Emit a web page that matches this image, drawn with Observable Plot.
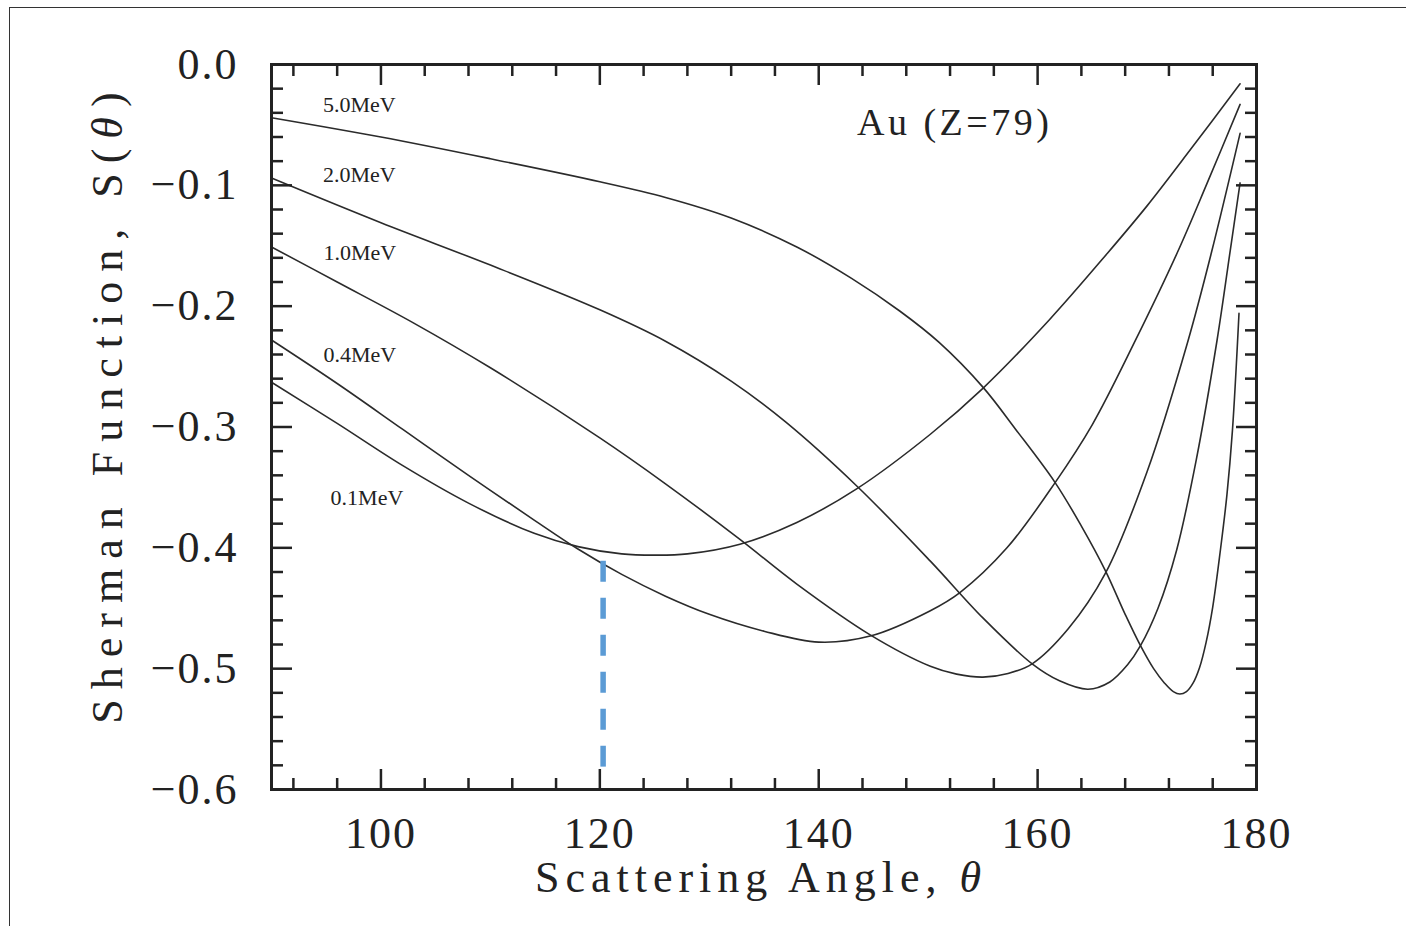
<!DOCTYPE html>
<html>
<head>
<meta charset="utf-8">
<script src="https://cdn.jsdelivr.net/npm/d3@7"></script>
<script src="https://cdn.jsdelivr.net/npm/@observablehq/plot@0.6"></script>
<style>
html,body{margin:0;padding:0;background:#fff;overflow:hidden;}
#chart{position:absolute;left:0;top:0;}
#frame{position:absolute;left:9px;top:7px;width:1420px;height:940px;border:1.5px solid #333;z-index:2;pointer-events:none;}
</style>
</head>
<body>
<div id="chart"></div>
<div id="frame"></div>
<script>
// ---- data (theta in degrees, Sherman function S) ----
const energies = ["5.0MeV", "2.0MeV", "1.0MeV", "0.4MeV", "0.1MeV"];
const s50 = [[90,-0.044],[100,-0.060],[110,-0.078],[120,-0.097],[126,-0.110],[132,-0.127],[138,-0.151],[143,-0.177],[147.4,-0.204],[151,-0.230],[155,-0.267],[158,-0.302],[161.6,-0.346],[164,-0.382],[166.2,-0.419],[168,-0.455],[169.4,-0.481],[170.6,-0.500],[171.6,-0.512],[172.4,-0.519],[173,-0.521],[173.6,-0.519],[174.2,-0.512],[174.8,-0.499],[175.4,-0.478],[176,-0.449],[176.7,-0.402],[177.3,-0.356],[177.8,-0.303],[178.4,-0.206]];
const s20 = [[90,-0.094],[100,-0.131],[110,-0.166],[120,-0.203],[126,-0.229],[132,-0.262],[137,-0.296],[143.5,-0.349],[150.2,-0.411],[155,-0.458],[159.5,-0.496],[162,-0.510],[164.6,-0.517],[166.6,-0.511],[168.2,-0.497],[169.4,-0.481],[171,-0.450],[172.7,-0.402],[174.5,-0.327],[176.4,-0.228],[177.6,-0.154],[178.5,-0.098]];
const s10 = [[90,-0.151],[96,-0.180],[103,-0.214],[110,-0.251],[120,-0.309],[126,-0.347],[132.8,-0.393],[138,-0.430],[144.7,-0.472],[150.2,-0.498],[152.6,-0.5045],[155,-0.507],[157.3,-0.504],[159.5,-0.496],[162.8,-0.467],[166.2,-0.421],[170,-0.337],[173.7,-0.230],[175.9,-0.155],[178.5,-0.057]];
const s04 = [[90,-0.228],[96,-0.264],[102,-0.302],[108,-0.340],[114,-0.377],[118,-0.401],[122,-0.422],[126,-0.440],[130,-0.455],[135,-0.469],[140,-0.478],[144.7,-0.473],[150.2,-0.452],[152.9,-0.437],[157.2,-0.400],[161.6,-0.346],[165,-0.298],[168.9,-0.229],[172.8,-0.155],[175.5,-0.098],[178.5,-0.033]];
const s01 = [[90,-0.263],[96,-0.297],[102,-0.332],[108,-0.363],[114,-0.388],[118,-0.399],[122,-0.405],[125,-0.406],[128,-0.405],[132.8,-0.397],[138,-0.379],[143.5,-0.351],[150.2,-0.306],[155,-0.268],[161.1,-0.211],[166.4,-0.156],[170,-0.117],[174,-0.070],[178.5,-0.016]];

// label positions for each curve (theta, S)
const labelTheta = [94.7, 94.7, 94.75, 94.75, 95.4];
const labelS = [-0.0335, -0.0915, -0.156, -0.2405, -0.359];

const title = ["Au (Z=79)"];
const titleTheta = [143.5];
const titleS = [-0.0484];

// blue dashed marker
const markerTheta = [120.3];
const markerS = [-0.411, -0.582];

// ticks
const xMajor = [100, 120, 140, 160, 180];
const xMinor = [92, 96, 104, 108, 112, 116, 124, 128, 132, 136, 144, 148, 152, 156, 164, 168, 172, 176];
const yMajor = [-0.6, -0.5, -0.4, -0.3, -0.2, -0.1, 0];
const yMinor = [-0.58, -0.56, -0.54, -0.52, -0.48, -0.46, -0.44, -0.42, -0.38, -0.36, -0.34, -0.32, -0.28, -0.26, -0.24, -0.22, -0.18, -0.16, -0.14, -0.12, -0.08, -0.06, -0.04, -0.02];

const xTitle = ["Scattering Angle, θ"];
const yTitle = ["Sherman Function, S(θ)"];

// ---- build ----
const seriesList = [s50, s20, s10, s04, s01];
const rows = seriesList.flatMap((pts, i) => pts.map(([t, s]) => ({theta: t, S: s, e: energies[i]})));
const labels = energies.map((e, i) => ({e, theta: labelTheta[i], S: labelS[i]}));
const fmt = d3.format(".1f");
const ink = "#222";
const blank = () => "";

const chart = Plot.plot({
  width: 1406,
  height: 926,
  marginLeft: 271,
  marginRight: 150,
  marginTop: 64,
  marginBottom: 137,
  style: {fontFamily: "'Liberation Serif', serif", background: "transparent", color: ink},
  x: {domain: [90, 180], label: null},
  y: {domain: [-0.6, 0], label: null},
  marks: [
    Plot.line(rows, {x: "theta", y: "S", z: "e", curve: "catmull-rom", stroke: "#2b2b2b", strokeWidth: 1.6}),
    Plot.ruleX(markerTheta, {x: d => d, y1: markerS[0], y2: markerS[1], stroke: "#5b9bd5", strokeWidth: 5.5, strokeDasharray: "21,16"}),
    Plot.text(labels, {x: "theta", y: "S", text: "e", textAnchor: "start", fontSize: 22, fill: ink}),
    Plot.text(title, {x: titleTheta, y: titleS, text: d => d, textAnchor: "start", fontSize: 38, fill: ink}),
    // tick labels
    Plot.axisX(xMajor, {anchor: "bottom", tickSize: 0, tickPadding: 27, fontSize: 44, label: null, tickFormat: d => String(d)}),
    Plot.axisY(yMajor, {anchor: "left", tickSize: 0, tickPadding: 33, fontSize: 44, label: null, tickFormat: d => fmt(d)}),
    // inward ticks on all four sides
    Plot.axisX(xMajor, {anchor: "bottom", tickSize: -20, strokeWidth: 2.5, stroke: ink, tickFormat: blank, label: null}),
    Plot.axisX(xMinor, {anchor: "bottom", tickSize: -11, strokeWidth: 2.5, stroke: ink, tickFormat: blank, label: null}),
    Plot.axisX(xMajor, {anchor: "top", tickSize: -20, strokeWidth: 2.5, stroke: ink, tickFormat: blank, label: null}),
    Plot.axisX(xMinor, {anchor: "top", tickSize: -11, strokeWidth: 2.5, stroke: ink, tickFormat: blank, label: null}),
    Plot.axisY(yMajor, {anchor: "left", tickSize: -21, strokeWidth: 2.5, stroke: ink, tickFormat: blank, label: null}),
    Plot.axisY(yMinor, {anchor: "left", tickSize: -12, strokeWidth: 2.5, stroke: ink, tickFormat: blank, label: null}),
    Plot.axisY(yMajor, {anchor: "right", tickSize: -21, strokeWidth: 2.5, stroke: ink, tickFormat: blank, label: null}),
    Plot.axisY(yMinor, {anchor: "right", tickSize: -12, strokeWidth: 2.5, stroke: ink, tickFormat: blank, label: null}),
    Plot.frame({stroke: ink, strokeWidth: 3}),
    // axis titles
    Plot.text(xTitle, {frameAnchor: "bottom", dx: -3, dy: 102, lineAnchor: "bottom", textAnchor: "middle", text: d => d, fontSize: 44, fill: ink}),
    Plot.text(yTitle, {frameAnchor: "left", dx: -150, dy: -24, rotate: -90, lineAnchor: "bottom", textAnchor: "middle", text: d => d, fontSize: 44, fill: ink})
  ]
});

document.getElementById("chart").appendChild(chart);

// typographic touches: spacing and italic theta
const svg = d3.select(chart);
svg.selectAll("text").each(function () {
  const el = d3.select(this);
  const t = this.textContent;
  if (t === xTitle[0]) el.style("letter-spacing", "6px");
  else if (t === yTitle[0]) el.style("letter-spacing", "10px");
  else if (t === title[0]) el.style("letter-spacing", "3.5px");
  else if (/^[−\-]?\d/.test(t) && !t.includes("MeV")) el.style("letter-spacing", "2px");
  if (t.includes("θ")) {
    const parts = t.split("θ");
    el.text(null);
    el.append("tspan").text(parts[0]);
    el.append("tspan").attr("font-style", "italic").text("θ");
    if (parts[1]) el.append("tspan").text(parts[1]);
  }
});
</script>
</body>
</html>
